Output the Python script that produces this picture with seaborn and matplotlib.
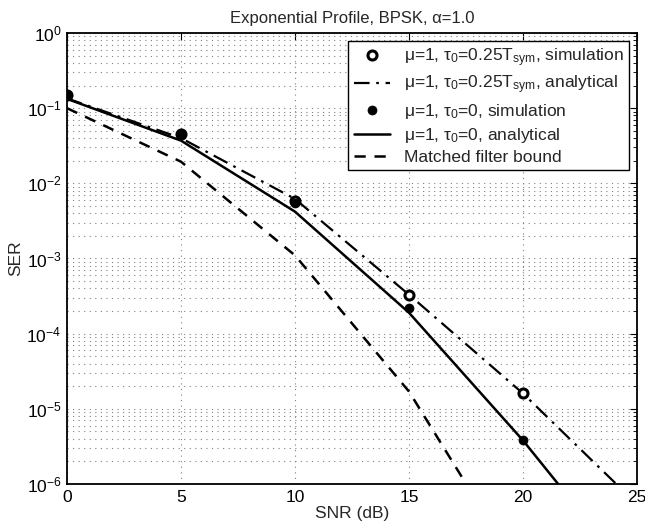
import numpy as np
import pandas as pd
import matplotlib
matplotlib.use("Agg")
import matplotlib.pyplot as plt
import seaborn as sns
from matplotlib.ticker import LogLocator, FixedLocator, NullFormatter

# ---- data ----
snr = [0, 5, 10, 15, 20, 25]
sim_snr = [0, 5, 10, 15, 20]
mf_snr = [0, 5, 10, 15, 20]

sim_tau025 = [0.148, 0.046, 0.0059, 3.3e-4, 1.6e-5]
ana_tau025 = [0.135, 0.040, 0.0062, 3.3e-4, 1.6e-5, 5.4e-7]
sim_tau0 = [0.148, 0.044, 0.0054, 2.2e-4, 3.8e-6]
ana_tau0 = [0.133, 0.037, 0.0042, 1.9e-4, 3.8e-6, 5.0e-8]
mf_bound = [0.100, 0.0194, 0.0011, 1.7e-5, 6.0e-8]

labels = [
    "μ=1, τ$_0$=0.25T$_{\\rm sym}$, simulation",
    "μ=1, τ$_0$=0.25T$_{\\rm sym}$, analytical",
    "μ=1, τ$_0$=0, simulation",
    "μ=1, τ$_0$=0, analytical",
    "Matched filter bound",
]
x_ticks = [0, 5, 10, 15, 20, 25]

sns.set_theme(style="white")
plt.rcParams["font.family"] = ["Liberation Sans", "DejaVu Sans"]
plt.rcParams["mathtext.fontset"] = "custom"
plt.rcParams["mathtext.rm"] = "Liberation Sans"
plt.rcParams["mathtext.it"] = "Liberation Sans"
plt.rcParams["mathtext.default"] = "regular"
plt.rcParams["font.size"] = 12

fig = plt.figure(figsize=(6.45, 5.29), dpi=100)
ax = fig.add_axes([67 / 645, 1 - 484 / 529, 570 / 645, 451 / 529])

df_sim025 = pd.DataFrame({"snr": sim_snr, "ser": sim_tau025})
df_ana025 = pd.DataFrame({"snr": snr, "ser": ana_tau025})
df_sim0 = pd.DataFrame({"snr": sim_snr, "ser": sim_tau0})
df_ana0 = pd.DataFrame({"snr": snr, "ser": ana_tau0})
df_mf = pd.DataFrame({"snr": mf_snr, "ser": mf_bound})

sns.lineplot(data=df_sim025, x="snr", y="ser", ax=ax, estimator=None, sort=False,
             linestyle="none", marker="o", markersize=6.5, markerfacecolor="white",
             markeredgecolor="black", markeredgewidth=2.2, color="black",
             label=labels[0], zorder=4)
sns.lineplot(data=df_ana025, x="snr", y="ser", ax=ax, estimator=None, sort=False,
             color="black", linewidth=1.6, dashes=False, label=labels[1], zorder=3)
ax.lines[-1].set_linestyle((0, (7, 3, 1.2, 3)))
sns.lineplot(data=df_sim0, x="snr", y="ser", ax=ax, estimator=None, sort=False,
             linestyle="none", marker="o", markersize=6.5, markerfacecolor="black",
             markeredgecolor="black", markeredgewidth=0.5, color="black",
             label=labels[2], zorder=5)
sns.lineplot(data=df_ana0, x="snr", y="ser", ax=ax, estimator=None, sort=False,
             color="black", linewidth=1.8, label=labels[3], zorder=3)
sns.lineplot(data=df_mf, x="snr", y="ser", ax=ax, estimator=None, sort=False,
             color="black", linewidth=1.8, label=labels[4], zorder=3)
ax.lines[-1].set_linestyle((0, (4.5, 3.5)))

ax.set_yscale("log")
ax.set_xlim(0, 25)
ax.set_ylim(1e-6, 1)
ax.xaxis.set_major_locator(FixedLocator(x_ticks))
ax.yaxis.set_major_locator(LogLocator(base=10, numticks=10))
ax.yaxis.set_minor_locator(LogLocator(base=10, subs=np.arange(2, 10), numticks=20))
ax.yaxis.set_minor_formatter(NullFormatter())

ax.grid(True, which="major", axis="both", color="0.5", linestyle=(0, (1, 4)), linewidth=0.8)
ax.grid(True, which="minor", axis="y", color="0.5", linestyle=(0, (1, 4)), linewidth=0.8)

ax.tick_params(which="both", direction="in", top=True, right=True, labelsize=12.5,
               colors="black", pad=4)
ax.tick_params(which="major", length=5, width=0.8)
ax.tick_params(which="minor", length=3, width=0.6)
for s in ax.spines.values():
    s.set_color("black")
    s.set_linewidth(1.3)

ax.set_xlabel("SNR (dB)", fontsize=12.5, labelpad=1)
ax.set_ylabel("SER", fontsize=12.5, labelpad=2)
ax.set_title("Exponential Profile, BPSK, α=1.0", fontsize=12, pad=7)

handles, labs = ax.get_legend_handles_labels()
leg = ax.legend(handles, labs, loc="upper right", fontsize=12.5, frameon=True,
                fancybox=False, framealpha=1, edgecolor="black", borderaxespad=0.45,
                handlelength=2.1, handletextpad=0.8, labelspacing=0.3,
                borderpad=0.3, numpoints=1)
leg.get_frame().set_linewidth(1.0)

fig.savefig("out.png", dpi=100, facecolor="white")
